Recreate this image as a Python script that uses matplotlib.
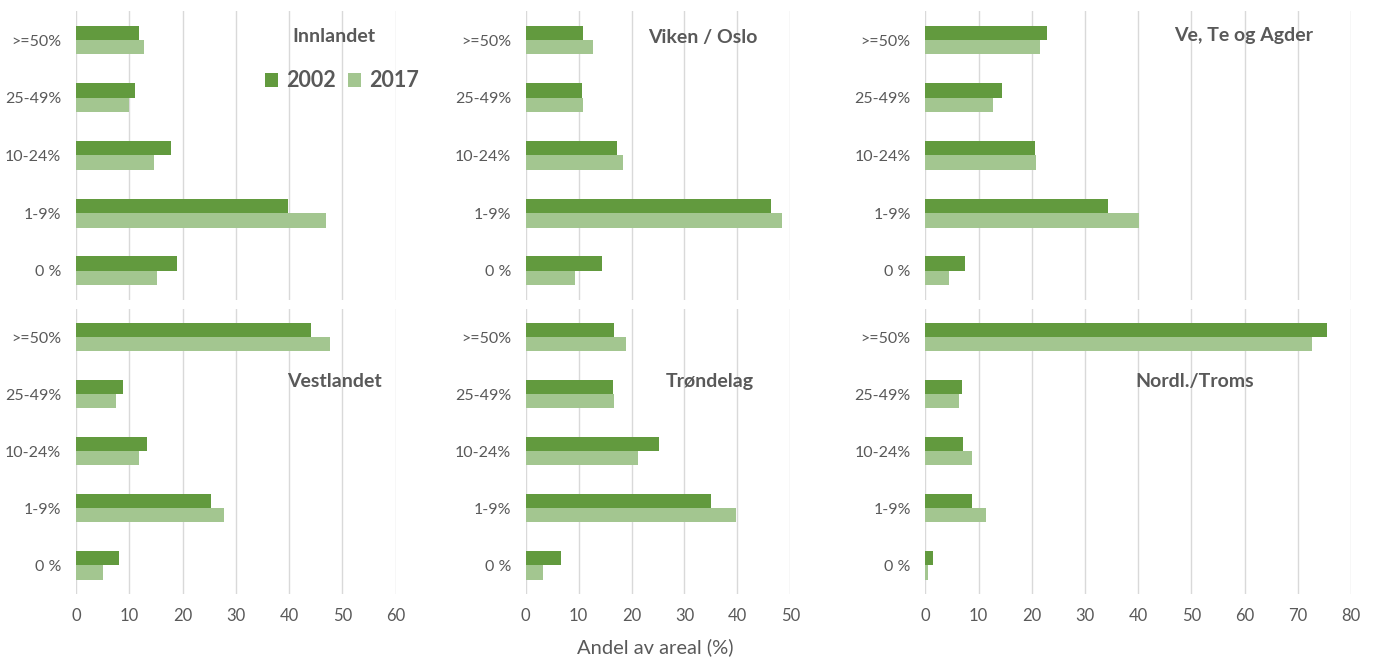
import matplotlib
matplotlib.use("Agg")
import matplotlib.pyplot as plt
import numpy as np
from matplotlib.patches import Patch

plt.rcParams['font.family'] = ['Lato', 'DejaVu Sans']

categories = [">=50%", "25-49%", "10-24%", "1-9%", "0 %"]
regions = ["Innlandet", "Viken / Oslo", "Ve, Te og Agder",
           "Vestlandet", "Trøndelag", "Nordl./Troms"]

innlandet_2002 = [11.8, 11.0, 17.8, 39.9, 18.9]
innlandet_2017 = [12.75, 9.9, 14.7, 46.9, 15.3]
viken_2002 = [10.9, 10.7, 17.3, 46.4, 14.5]
viken_2017 = [12.7, 10.9, 18.45, 48.4, 9.3]
vetea_2002 = [22.9, 14.4, 20.55, 34.3, 7.5]
vetea_2017 = [21.55, 12.8, 20.8, 40.1, 4.5]
vest_2002 = [44.2, 8.9, 13.4, 25.3, 8.1]
vest_2017 = [47.7, 7.6, 11.8, 27.8, 5.0]
trond_2002 = [16.7, 16.5, 25.1, 35.0, 6.6]
trond_2017 = [18.9, 16.7, 21.2, 39.7, 3.3]
nordl_2002 = [75.5, 6.9, 7.1, 8.8, 1.4]
nordl_2017 = [72.6, 6.3, 8.8, 11.5, 0.6]

series_2002 = [innlandet_2002, viken_2002, vetea_2002, vest_2002, trond_2002, nordl_2002]
series_2017 = [innlandet_2017, viken_2017, vetea_2017, vest_2017, trond_2017, nordl_2017]
years = ["2002", "2017"]
x_max = [60, 50, 80]

C2002 = "#629A3E"
C2017 = "#A3C690"
GRID = "#D9D9D9"
TXT = "#595959"

W, H = 1375, 657
fig = plt.figure(figsize=(W / 100, H / 100), dpi=100)

col_px = [(76, 395.5), (525.7, 790.3), (925.3, 1351)]
row_px = [(11.2, 299.6), (308.5, 593.8)]

title_pos = [(333.5, 36), (703, 38), (1243.5, 36),
             (334, 381.5), (710, 381), (1195, 381.5)]

ypos = np.arange(len(categories))
bh = 0.25

for i in range(6):
    r, c = divmod(i, 3)
    x0, x1 = col_px[c]
    y0, y1 = row_px[r]
    ax = fig.add_axes([x0 / W, 1 - y1 / H, (x1 - x0) / W, (y1 - y0) / H])
    ax.barh(ypos - bh / 2, series_2002[i], height=bh, color=C2002, zorder=3)
    ax.barh(ypos + bh / 2, series_2017[i], height=bh, color=C2017, zorder=3)
    ax.set_ylim(len(categories) - 0.5, -0.5)
    ax.set_xlim(0, x_max[c])
    ax.set_xticks(np.arange(0, x_max[c] + 1, 10))
    ax.set_yticks(ypos)
    ax.set_yticklabels(categories)
    ax.tick_params(axis='y', length=0, pad=10.5, labelsize=11.5, labelcolor=TXT)
    ax.tick_params(axis='x', length=0, pad=10, labelsize=12, labelcolor=TXT)
    if r == 0:
        ax.tick_params(axis='x', labelbottom=False)
    for s in ax.spines.values():
        s.set_visible(False)
    ax.grid(axis='x', color=GRID, linewidth=1, zorder=0)
    ax.set_axisbelow(True)
    ax.set_facecolor('none')
    tx, ty = title_pos[i]
    fig.text(tx / W, 1 - ty / H, regions[i], ha='center', va='center',
             fontsize=14, fontweight='bold', color=TXT)
    if i == 0:
        handles = [Patch(facecolor=C2002, label=years[0]),
                   Patch(facecolor=C2017, label=years[1])]
        leg = ax.legend(handles=handles, loc='center',
                        bbox_to_anchor=((342 - x0) / (x1 - x0), 1 - (81 - y0) / (y1 - y0)),
                        ncol=2, frameon=False, handlelength=0.6, handleheight=0.6,
                        handletextpad=0.35, columnspacing=0.6,
                        borderpad=0, prop={'size': 15.5, 'weight': 'bold'})
        for t in leg.get_texts():
            t.set_color(TXT)

fig.text(655 / W, 1 - 647 / H, "Andel av areal (%)", ha='center', va='center',
         fontsize=14.5, color=TXT)

fig.savefig("out.png", dpi=100)
